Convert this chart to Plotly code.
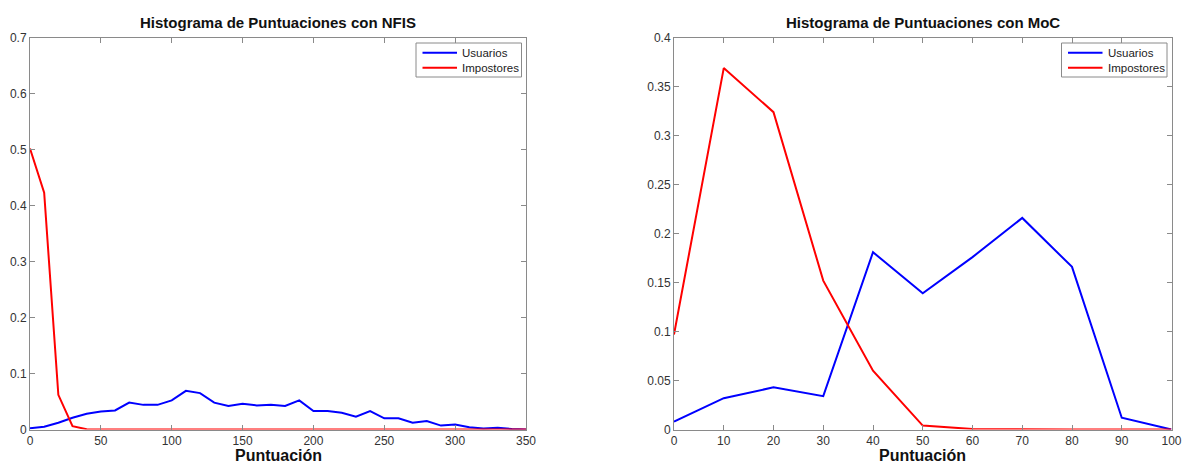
import plotly.graph_objects as go
from plotly.subplots import make_subplots

# NFIS score histogram (bins every 10 points)
nfis_x = list(range(0, 360, 10))
nfis_usuarios = [0.002, 0.005, 0.012, 0.021, 0.028, 0.032, 0.034, 0.048, 0.044, 0.044,
                 0.052, 0.069, 0.065, 0.048, 0.042, 0.046, 0.043, 0.044, 0.042, 0.052,
                 0.033, 0.033, 0.030, 0.023, 0.033, 0.020, 0.020, 0.012, 0.015, 0.007,
                 0.009, 0.004, 0.002, 0.003, 0.001, 0.000]
nfis_impostores = [0.502, 0.423, 0.062, 0.006, 0.0005, 0, 0, 0, 0, 0,
                   0, 0, 0, 0, 0, 0, 0, 0, 0, 0,
                   0, 0, 0, 0, 0, 0, 0, 0, 0, 0,
                   0, 0, 0, 0, 0, 0]

# MoC score histogram
moc_x = list(range(0, 110, 10))
moc_usuarios = [0.008, 0.032, 0.043, 0.034, 0.181, 0.139, 0.176, 0.216, 0.166, 0.012, 0.0]
moc_impostores = [0.097, 0.369, 0.324, 0.152, 0.060, 0.004, 0.0005, 0, 0, 0, 0]

series_names = ["Usuarios", "Impostores"]

nfis_yticks = [0, 0.1, 0.2, 0.3, 0.4, 0.5, 0.6, 0.7]
nfis_yticklabels = ["0", "0.1", "0.2", "0.3", "0.4", "0.5", "0.6", "0.7"]
nfis_xticks = [0, 50, 100, 150, 200, 250, 300, 350]
moc_yticks = [0, 0.05, 0.1, 0.15, 0.2, 0.25, 0.3, 0.35, 0.4]
moc_yticklabels = ["0", "0.05", "0.1", "0.15", "0.2", "0.25", "0.3", "0.35", "0.4"]
moc_xticks = list(range(0, 110, 10))

W, H = 1185, 463
BLUE = "#0000FF"
RED = "#FF0000"
COLORS = [BLUE, RED]
AXIS = "#8a8a8a"
FONT = "Arial, Liberation Sans, sans-serif"
TICKFONT = dict(family=FONT, size=12, color="#333333")

fig = make_subplots(rows=1, cols=2)

for col, xs, series in [(1, nfis_x, [nfis_usuarios, nfis_impostores]),
                        (2, moc_x, [moc_usuarios, moc_impostores])]:
    for name, ys, color in zip(series_names, series, COLORS):
        fig.add_trace(go.Scatter(x=xs, y=ys, mode="lines", name=name, showlegend=False,
                                 cliponaxis=False, line=dict(color=color, width=2)),
                      row=1, col=col)

y_dom = [1 - 429.5 / H, 1 - 37.7 / H]
left_px = (30, 526)
right_px = (674, 1171.5)
left_dom = [left_px[0] / W, left_px[1] / W]
right_dom = [right_px[0] / W, right_px[1] / W]

common = dict(showline=True, linecolor=AXIS, linewidth=1, mirror="ticks", ticks="inside",
              ticklen=5, tickcolor=AXIS, showgrid=False, zeroline=False, automargin=False,
              tickfont=TICKFONT, fixedrange=True)

fig.update_xaxes(domain=left_dom, range=[0, 350], tickvals=nfis_xticks, row=1, col=1, **common)
fig.update_yaxes(domain=y_dom, range=[0, 0.7], tickvals=nfis_yticks, ticktext=nfis_yticklabels,
                 row=1, col=1, **common)
fig.update_xaxes(domain=right_dom, range=[0, 100], tickvals=moc_xticks, row=1, col=2, **common)
fig.update_yaxes(domain=y_dom, range=[0, 0.4], tickvals=moc_yticks, ticktext=moc_yticklabels,
                 row=1, col=2, **common)

title_font = dict(family=FONT, size=15, color="#111111")
label_font = dict(family=FONT, size=16, color="#111111")
legend_font = dict(family=FONT, size=11.5, color="#222222")

annotations = []
shapes = []
for (x0, x1), title in [(left_px, "Histograma de Puntuaciones con NFIS"),
                        (right_px, "Histograma de Puntuaciones con MoC")]:
    cx = (x0 + x1) / 2 / W
    annotations.append(dict(text=f"<b>{title}</b>", x=cx, y=1 - 23 / H, xref="paper", yref="paper",
                            showarrow=False, font=title_font, xanchor="center", yanchor="middle"))
    annotations.append(dict(text="<b>Puntuación</b>", x=cx, y=1 - 455 / H, xref="paper", yref="paper",
                            showarrow=False, font=label_font, xanchor="center", yanchor="middle"))

    # legend box in the upper-right corner of each panel
    bx1 = x1 - 4.5
    bx0 = bx1 - 105.5
    shapes.append(dict(type="rect", xref="paper", yref="paper",
                       x0=bx0 / W, x1=bx1 / W, y0=1 - 77 / H, y1=1 - 43 / H,
                       line=dict(color=AXIS, width=1), fillcolor="white", layer="above"))
    for i, (name, color) in enumerate(zip(series_names, COLORS)):
        ly = 1 - (52.7 + 15 * i) / H
        shapes.append(dict(type="line", xref="paper", yref="paper",
                           x0=(bx0 + 6.5) / W, x1=(bx0 + 41) / W, y0=ly, y1=ly,
                           line=dict(color=color, width=2), layer="above"))
        annotations.append(dict(text=name, x=(bx0 + 44) / W, y=ly, xref="paper", yref="paper",
                                showarrow=False, font=legend_font, xanchor="left", yanchor="middle"))

fig.update_layout(
    width=W, height=H,
    margin=dict(l=0, r=0, t=0, b=0),
    paper_bgcolor="white", plot_bgcolor="white",
    showlegend=False,
    annotations=annotations,
    shapes=shapes,
)

fig.write_html("out.html")
